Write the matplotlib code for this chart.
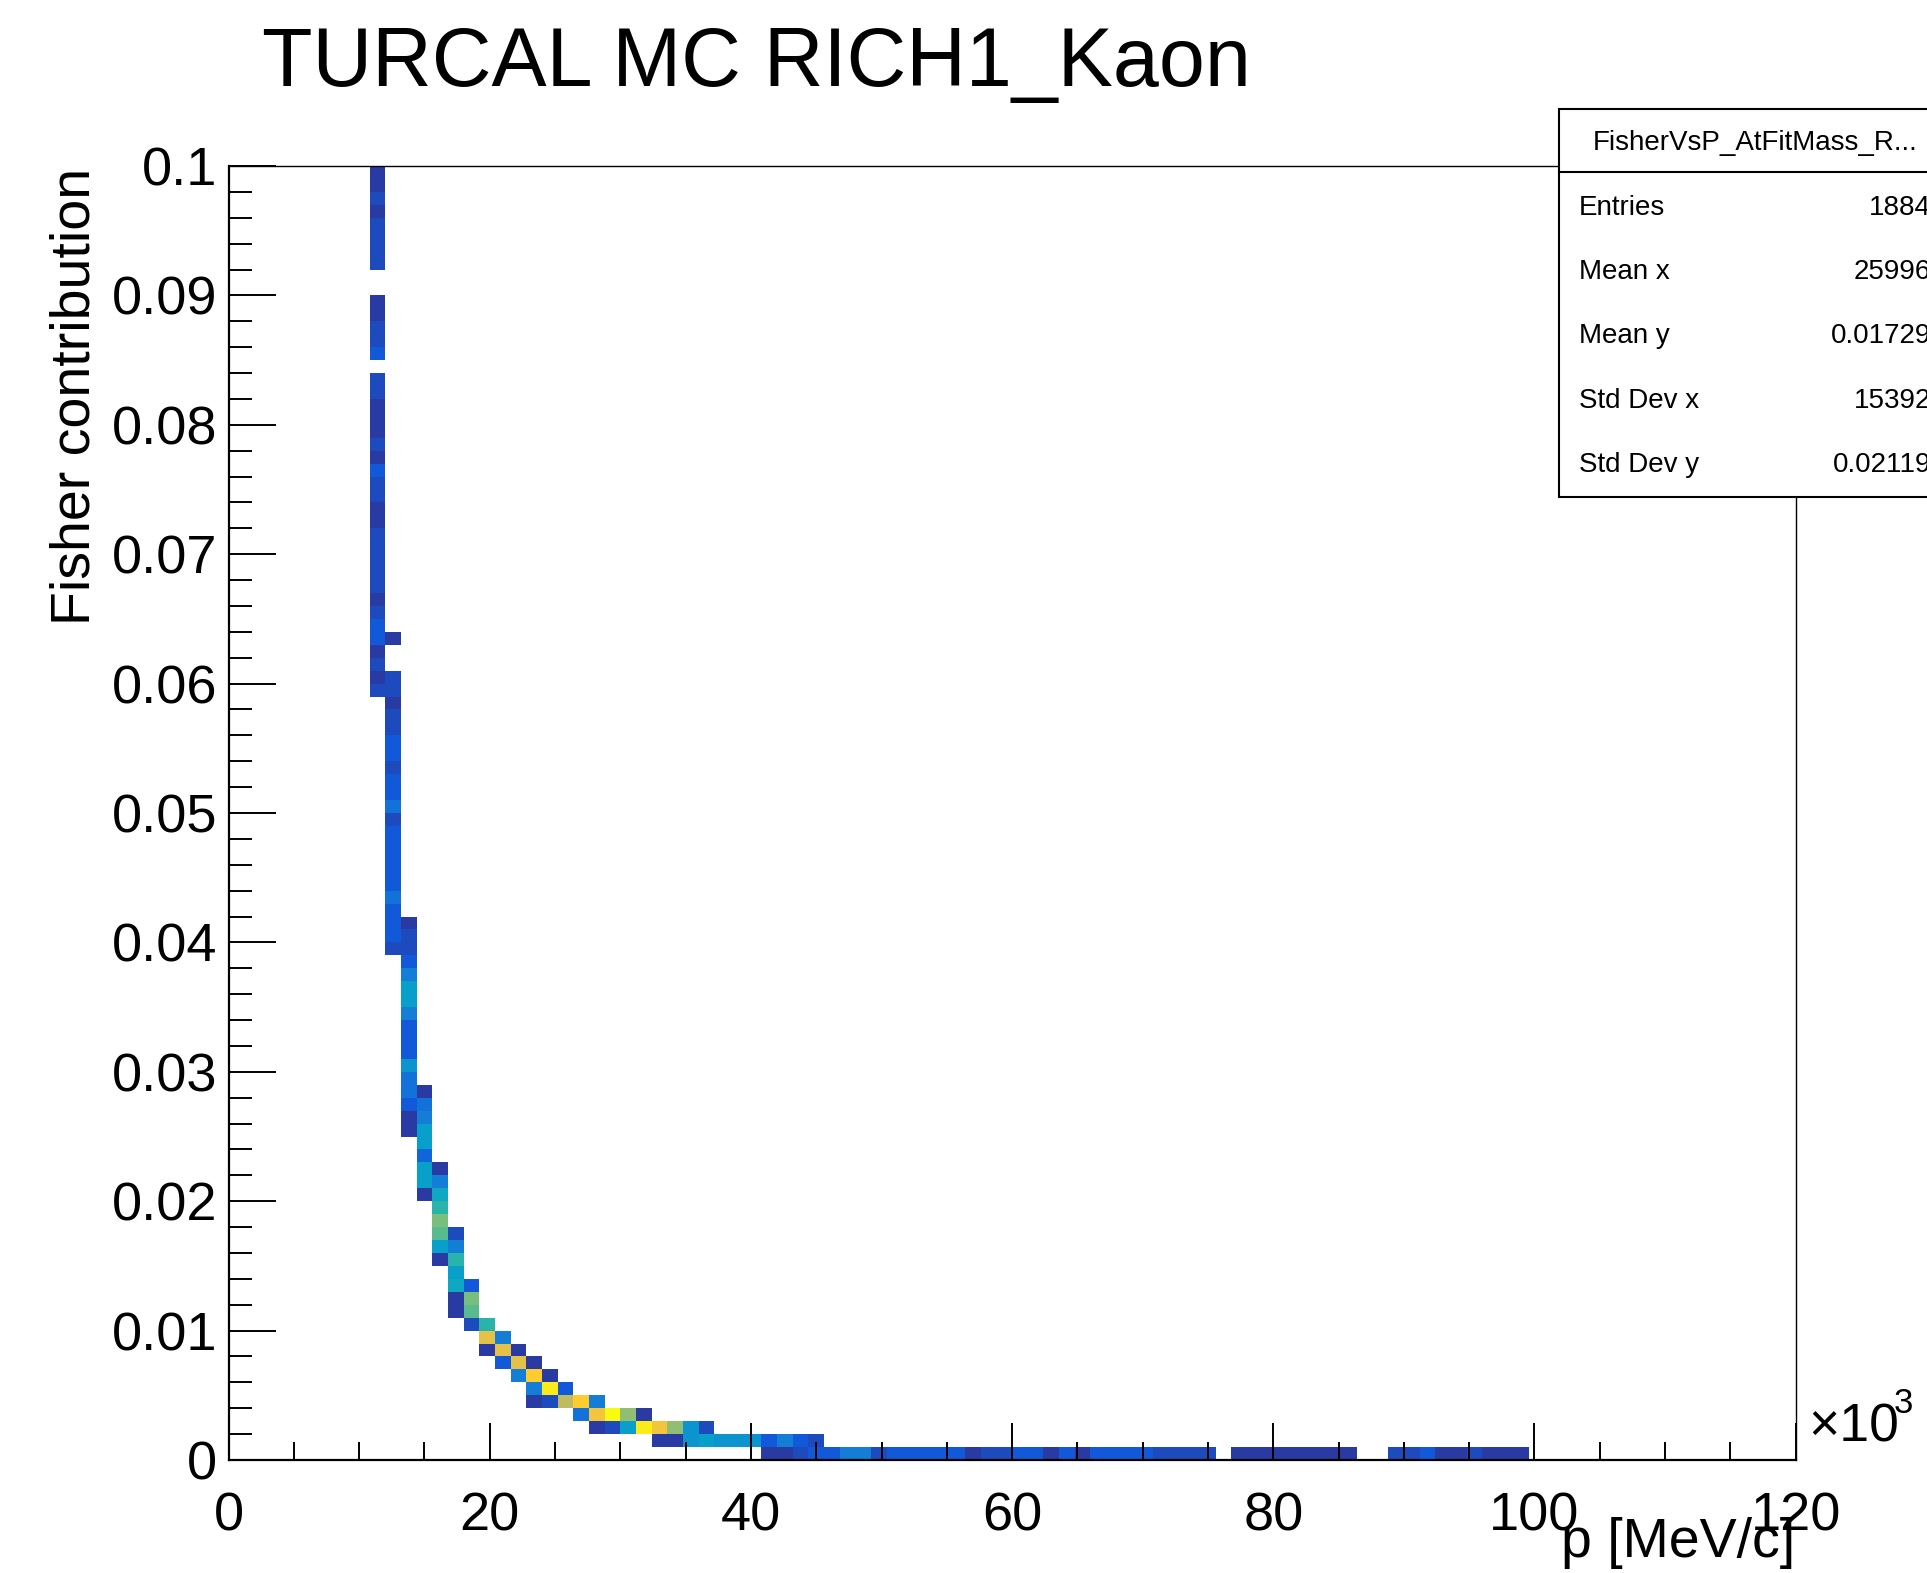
import numpy as np
import matplotlib
matplotlib.use("Agg")
import matplotlib.pyplot as plt
from matplotlib.colors import LinearSegmentedColormap
from matplotlib.ticker import MultipleLocator, FuncFormatter
from matplotlib.patches import Rectangle
from matplotlib.lines import Line2D

plt.rcParams['font.family'] = ['Liberation Sans', 'DejaVu Sans']

# ---------------- data ----------------
# histogram binning: 100 bins in p (0..120000 MeV/c), 100 bins in Fisher contribution (0..0.1)
p_edges = np.linspace(0, 120000, 101)
fisher_edges = np.linspace(0, 0.1, 101)

# columns (p-bin index), first filled Fisher-bin index, bin contents upwards from there
col_p_bin = [9, 10, 11, 12, 13, 14, 15, 16, 17, 18, 19, 20, 21, 22, 23, 24, 25,
             26, 27, 28, 29, 30, 31, 32, 33, 34, 35, 36, 37]
col_first_fbin = [59, 39, 25, 20, 15, 11, 10, 8, 7, 6, 4, 4, 4, 3, 2, 2, 2,
                  2, 1, 1, 1, 1, 1, 1, 1, 0, 0, 0, 0]
col_counts = [
    [2, 1, 2, 1, 3, 3, 2, 1, 2, 2, 2, 2, 2, 1, 1, 2, 2, 3, 1, 2, 1, 1, 1, 2, 2,
     0, 3, 2, 2, 1, 1, 0, 0, 2, 2, 2, 2, 1, 2, 1, 1],
    [2, 3, 3, 3, 5, 3, 3, 3, 3, 3, 2, 5, 3, 3, 2, 3, 3, 2, 2, 1, 2, 2, 0, 0, 1],
    [1, 1, 3, 5, 5, 8, 3, 3, 3, 6, 9, 9, 6, 3, 2, 2, 1],
    [1, 9, 9, 4, 9, 9, 6, 5, 1],
    [1, 9, 14, 15, 12, 10, 6, 1],
    [1, 1, 10, 9, 12, 6, 2],
    [2, 14, 15, 3],
    [1, 20, 12],
    [3, 20, 6],
    [6, 20, 1],
    [1, 6, 22, 1],
    [2, 24, 1],
    [18, 3],
    [5, 22],
    [1, 21, 6],
    [2, 25],
    [9, 16],
    [24, 1],
    [1, 21],
    [1, 16],
    [8, 8],
    [9, 2],
    [8],
    [8],
    [8],
    [1, 3],
    [1, 6],
    [2, 3],
    [3, 2],
]
# lowest Fisher bin, p-bins 38..82
tail_first_p_bin = 38
tail_counts = [3, 6, 6, 2, 3, 3, 3, 3, 3, 1, 2, 2, 3, 3, 1, 3, 1, 3, 3, 3, 3,
               2, 2, 2, 2, 0, 1, 1, 1, 1, 1, 1, 1, 1, 0, 0, 2, 2, 3, 1, 1, 2,
               1, 1, 1]

title = "TURCAL MC RICH1_Kaon"
stats_name = "FisherVsP_AtFitMass_R..."
stats_labels = ["Entries", "Mean x", "Mean y", "Std Dev x", "Std Dev y"]
stats_values = ["1884", "25996", "0.01729", "15392", "0.02119"]

# ---------------- build histogram ----------------
H = np.zeros((100, 100))
for pb, fb0, cnts in zip(col_p_bin, col_first_fbin, col_counts):
    for k, c in enumerate(cnts):
        H[fb0 + k, pb] = c
for k, c in enumerate(tail_counts):
    H[0, tail_first_p_bin + k] = c

# ROOT kBird palette
stops = [0.0, 0.125, 0.25, 0.375, 0.5, 0.625, 0.75, 0.875, 1.0]
red = [0.2082, 0.0592, 0.0780, 0.0232, 0.1802, 0.5301, 0.8186, 0.9956, 0.9764]
green = [0.1664, 0.3599, 0.5041, 0.6419, 0.7178, 0.7492, 0.7328, 0.7862, 0.9832]
blue = [0.5293, 0.8684, 0.8385, 0.7914, 0.6425, 0.4662, 0.3499, 0.1968, 0.0539]
bird = LinearSegmentedColormap.from_list(
    "bird", list(zip(stops, zip(red, green, blue))), N=255)

# ---------------- figure ----------------
W, Hpx = 1927, 1573
fig = plt.figure(figsize=(W / 100, Hpx / 100), dpi=100)
fig.patch.set_facecolor("white")

ax_l, ax_r, ax_t, ax_b = 228.6, 1795.6, 166.0, 1460.0
ax = fig.add_axes([ax_l / W, 1 - ax_b / Hpx, (ax_r - ax_l) / W, (ax_b - ax_t) / Hpx])

ax.pcolormesh(p_edges, fisher_edges, np.ma.masked_equal(H, 0), cmap=bird,
              vmin=0, vmax=25, shading="flat", antialiased=False)

ax.set_xlim(0, 120000)
ax.set_ylim(0, 0.1)
ax.xaxis.set_major_locator(MultipleLocator(20000))
ax.xaxis.set_minor_locator(MultipleLocator(5000))
ax.yaxis.set_major_locator(MultipleLocator(0.01))
ax.yaxis.set_minor_locator(MultipleLocator(0.002))
ax.xaxis.set_major_formatter(FuncFormatter(lambda v, _: f"{v / 1000:g}"))
ax.yaxis.set_major_formatter(FuncFormatter(lambda v, _: f"{round(v, 4):g}"))

ax.tick_params(axis="x", which="major", direction="in", length=26.5, width=1.4,
               labelsize=39, pad=23, top=False)
ax.tick_params(axis="x", which="minor", direction="in", length=13, width=1.4, top=False)
ax.tick_params(axis="y", which="major", direction="in", length=34, width=1.4,
               labelsize=39, pad=8, right=False)
ax.tick_params(axis="y", which="minor", direction="in", length=16.5, width=1.4, right=False)
for s in ["left", "bottom"]:
    ax.spines[s].set_linewidth(1.6)
for s in ["top", "right"]:
    ax.spines[s].set_linewidth(1.0)

# title and axis titles
fig.text(262 / W, 1 - 86 / Hpx, title, fontsize=59.5, ha="left", va="baseline")
fig.text(76 / W, 1 - 168 / Hpx, "Fisher contribution", fontsize=40, rotation=90,
         ha="center", va="top")
fig.text(1795 / W, 1 - 1557 / Hpx, "p [MeV/c]", fontsize=40, ha="right", va="baseline")
fig.text(1808 / W, 1 - 1441 / Hpx, "\u00d710", fontsize=38.5, ha="left", va="baseline")
fig.text(1894 / W, 1 - 1413 / Hpx, "3", fontsize=25, ha="left", va="baseline")

# stats box
bx0, by0, by1, bsep = 1559.3, 109.3, 496.7, 172.3
box = Rectangle((bx0 / W, 1 - by1 / Hpx), (1960 - bx0) / W, (by1 - by0) / Hpx,
                transform=fig.transFigure, facecolor="white", edgecolor="black",
                linewidth=1.5, zorder=5, clip_on=False)
fig.patches.append(box)
fig.lines.append(Line2D([bx0 / W, 1.0], [1 - bsep / Hpx, 1 - bsep / Hpx],
                        transform=fig.transFigure, color="black", linewidth=1.5,
                        zorder=6))
fig.text(1755 / W, 1 - 149.5 / Hpx, stats_name, fontsize=20, ha="center",
         va="baseline", zorder=7)
row_base = [215, 279, 343.3, 408.3, 471.7]
for lab, val, yb in zip(stats_labels, stats_values, row_base):
    fig.text(1579 / W, 1 - yb / Hpx, lab, fontsize=20, ha="left", va="baseline", zorder=7)
    fig.text(1931 / W, 1 - yb / Hpx, val, fontsize=20, ha="right", va="baseline", zorder=7)

fig.savefig("out.png", dpi=100)
